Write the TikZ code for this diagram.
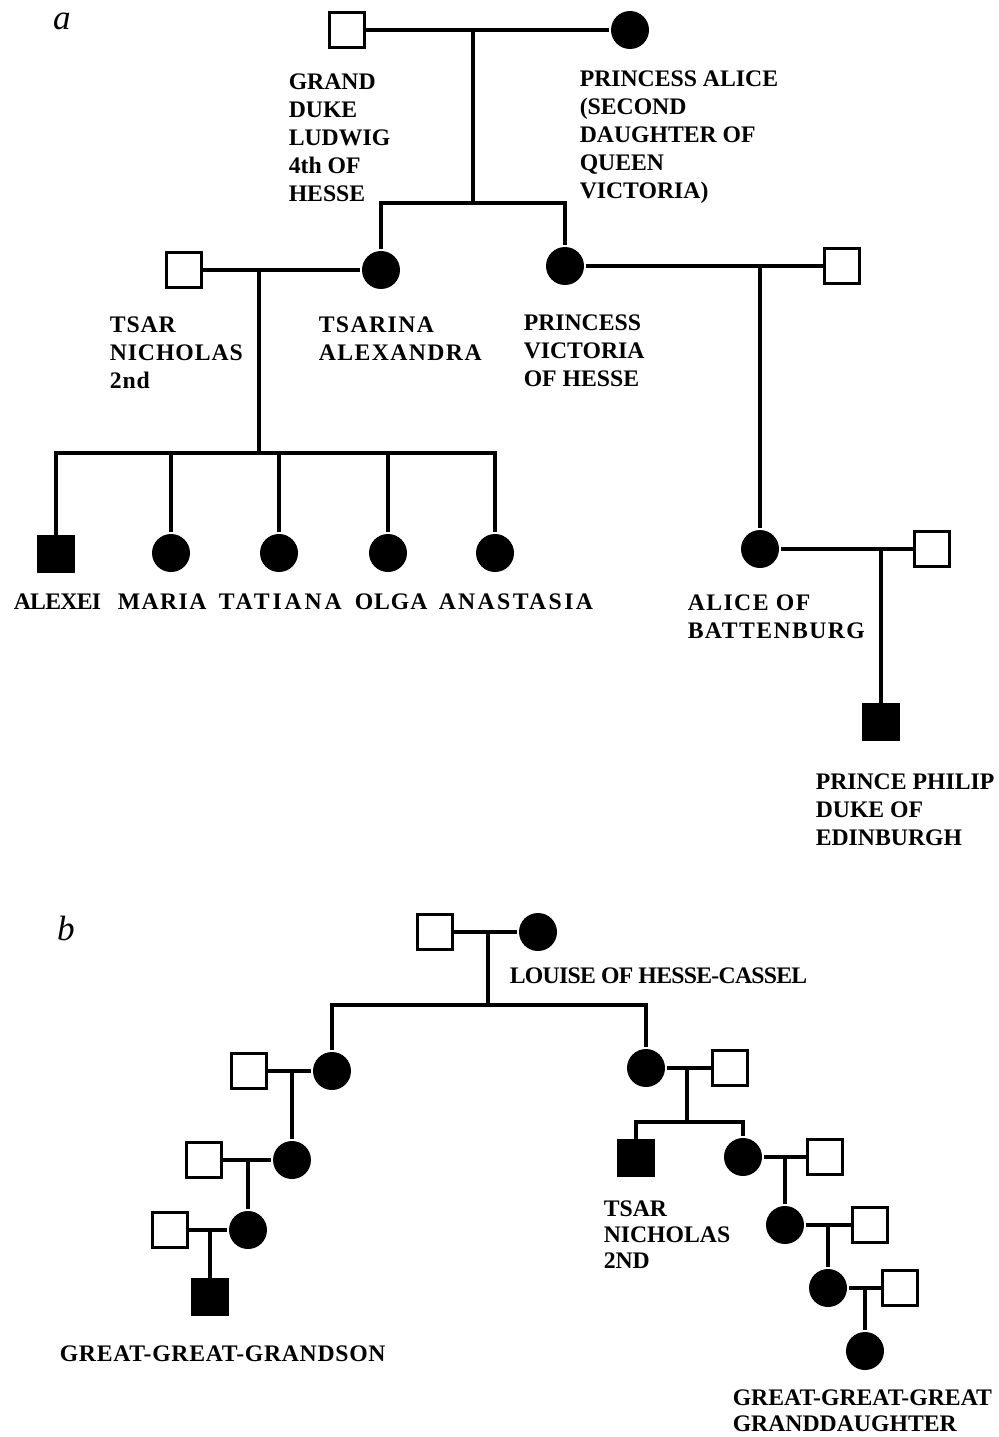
\documentclass[tikz,border=0pt]{standalone}
\usepackage{fontspec}
\setmainfont{Liberation Serif}
\newcommand\lblfont{\fontsize{13.5}{15.9}\selectfont\bfseries}
\newcommand\lblfontb{\fontsize{13.5}{14.8}\selectfont\bfseries}
\begin{document}
\begin{tikzpicture}[x=0.02cm,y=-0.02cm,
  every path/.style={line width=2pt},
  male/.style={draw, rectangle, fill=white, minimum size=0.70cm, inner sep=0pt, line width=2pt},
  amale/.style={draw, rectangle, fill=black, minimum size=0.70cm, inner sep=0pt, line width=2pt},
  fem/.style={circle, fill=black, minimum size=0.76cm, inner sep=0pt},
  lbl/.style={anchor=north west, inner sep=0pt, align=left, font=\lblfont},
  lbls/.style={anchor=north west, inner sep=0pt, align=left, font=\lblfont\addfontfeature{LetterSpace=#1}},
  lblb/.style={anchor=north west, inner sep=0pt, align=left, font=\lblfontb},
  lblbs/.style={anchor=north west, inner sep=0pt, align=left, font=\lblfontb\addfontfeature{LetterSpace=#1}},
  part/.style={anchor=base, inner sep=0pt, font=\fontsize{20}{20}\selectfont\itshape}]
\useasboundingbox (0,0) rectangle (998,1437);

% ---------------- part a ----------------
\node[part] (pa) at (62,29) {a};

\node[male] (gd) at (347,30) {};
\node[fem] (alice) at (630,30) {};
\coordinate (ma) at (473,30);
\coordinate (sa) at (473,203);
\draw (gd) -- (alice);
\draw (ma) -- (sa);

\node[lbl] (lgd) at (287,72) {GRAND\\DUKE\\LUDWIG\\4th OF\\HESSE};
\node[lbl] (lal) at (578,69) {PRINCESS ALICE\\(SECOND\\DAUGHTER OF\\QUEEN\\VICTORIA)};

\node[male] (tsar) at (184,270) {};
\node[fem] (alex) at (381,270) {};
\node[fem] (vict) at (565,266) {};
\node[male] (vh) at (842,266) {};
\draw (alex.north) |- (sa) -| (vict.north);
\draw (tsar) -- (alex);
\draw (vict) -- (vh);

\node[lbls=4] (ltsar) at (108,315) {TSAR\\NICHOLAS\\2nd};
\node[lbls=6] (lalex) at (317,315) {TSARINA\\ALEXANDRA};
\node[lbl] (lvict) at (522,313) {PRINCESS\\VICTORIA\\OF HESSE};

\coordinate (kt) at (259,270);
\coordinate (st) at (259,453);
\draw (kt) -- (st);

\node[amale] (alexei) at (56,554) {};
\node[fem] (maria) at (171,553) {};
\node[fem] (tatiana) at (279,553) {};
\node[fem] (olga) at (388,553) {};
\node[fem] (anast) at (495,553) {};
\draw (alexei.north) |- (st) -| (anast.north);
\draw (maria.north) -- (maria.north |- st);
\draw (tatiana.north) -- (tatiana.north |- st);
\draw (olga.north) -- (olga.north |- st);

\node[lbls=-3] (lalexei) at (12,592) {ALEXEI};
\node[lbls=6] (lmaria) at (116,592) {MARIA};
\node[lbls=12] (ltat) at (217,592) {TATIANA};
\node[lbls=4] (lolga) at (353,592) {OLGA};
\node[lbls=10] (lanast) at (437,592) {ANASTASIA};

\coordinate (kv) at (760,266);
\node[fem] (alb) at (760,549) {};
\node[male] (albh) at (932,549) {};
\draw (kv) -- (alb);
\draw (alb) -- (albh);
\node[lbls=6] (lalb) at (686,593) {ALICE OF\\BATTENBURG};

\coordinate (kab) at (881,549);
\node[amale] (philip) at (881,722) {};
\draw (kab) -- (philip);
\node[lbl] (lphil) at (814,772) {PRINCE PHILIP\\DUKE OF\\EDINBURGH};

% ---------------- part b ----------------
\node[part] (pb) at (66,940) {b};

\node[male] (tb) at (435,932) {};
\node[fem] (lou) at (538,932) {};
\draw (tb) -- (lou);
\coordinate (mb) at (488,932);
\coordinate (sb) at (488,1005);
\draw (mb) -- (sb);
\node[lblbs=-3] (llou) at (508,966) {LOUISE OF HESSE-CASSEL};

\node[fem] (c1) at (332,1071) {};
\node[fem] (d1) at (646,1068) {};
\draw (c1.north) |- (sb) -| (d1.north);

% left line
\node[male] (h1) at (249,1071) {};
\draw (h1) -- (c1);
\coordinate (k1) at (292,1071);
\node[fem] (c2) at (292,1160) {};
\draw (k1) -- (c2);
\node[male] (h2) at (204,1160) {};
\draw (h2) -- (c2);
\coordinate (k2) at (248,1160);
\node[fem] (c3) at (248,1230) {};
\draw (k2) -- (c3);
\node[male] (h3) at (170,1230) {};
\draw (h3) -- (c3);
\coordinate (k3) at (210,1230);
\node[amale] (gs) at (210,1297) {};
\draw (k3) -- (gs);
\node[lblbs=3] (lgs) at (58,1344) {GREAT-GREAT-GRANDSON};

% right line
\node[male] (dh1) at (730,1068) {};
\draw (d1) -- (dh1);
\coordinate (kd1) at (687,1068);
\coordinate (sd) at (687,1122);
\draw (kd1) -- (sd);
\node[amale] (nich) at (636,1158) {};
\node[fem] (d2) at (743,1157) {};
\draw (nich.north) |- (sd) -| (d2.north);
\node[lblb] (lnich) at (602,1199) {TSAR\\NICHOLAS\\2ND};

\node[male] (dh2) at (825,1157) {};
\draw (d2) -- (dh2);
\coordinate (kd2) at (785,1157);
\node[fem] (d3) at (785,1225) {};
\draw (kd2) -- (d3);
\node[male] (dh3) at (870,1225) {};
\draw (d3) -- (dh3);
\coordinate (kd3) at (828,1225);
\node[fem] (d4) at (828,1288) {};
\draw (kd3) -- (d4);
\node[male] (dh4) at (900,1288) {};
\draw (d4) -- (dh4);
\coordinate (kd4) at (865,1288);
\node[fem] (d5) at (865,1351) {};
\draw (kd4) -- (d5);
\node[lblb] (lggg) at (731,1388) {GREAT-GREAT-GREAT\\GRANDDAUGHTER};
\end{tikzpicture}
\end{document}
